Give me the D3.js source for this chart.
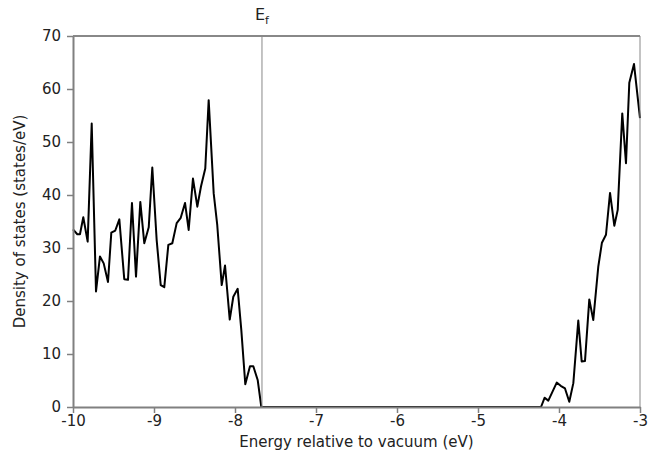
<!DOCTYPE html>
<html>
<head>
<meta charset="utf-8">
<script src="https://cdn.jsdelivr.net/npm/d3@7/dist/d3.min.js"></script>
<style>
  body { margin: 0; background: #fff; }
  svg text { font-family: "DejaVu Sans", Verdana, sans-serif; fill: #222; }
</style>
</head>
<body>
<div class="chart"></div>
<script>
// energies (eV) and density of states
const energy = [
    -10.00, -9.947, -9.914, -9.873, -9.819, -9.769, -9.716, -9.667, -9.621, -9.568,
    -9.527, -9.478, -9.428, -9.367, -9.321, -9.272, -9.222, -9.169, -9.120, -9.065,
    -9.021, -8.967, -8.917, -8.873, -8.823, -8.774, -8.720, -8.670, -8.617, -8.572,
    -8.519, -8.465, -8.420, -8.367, -8.325, -8.263, -8.219, -8.164, -8.123, -8.065,
    -8.021, -7.967, -7.922, -7.873, -7.815, -7.774, -7.720, -7.675,
    -4.222, -4.177, -4.132, -4.080, -4.028, -3.979, -3.926, -3.873, -3.823, -3.762,
    -3.720, -3.679, -3.626, -3.577, -3.515, -3.470, -3.420, -3.370, -3.317, -3.275,
    -3.219, -3.173, -3.132, -3.074, -3.000
];
const dos = [
    33.5, 32.6, 32.6, 35.8, 31.2, 53.5, 21.8, 28.4, 27.1, 23.6,
    32.9, 33.3, 35.4, 24.1, 24.0, 38.5, 24.6, 38.7, 30.9, 33.9,
    45.2, 31.5, 23.0, 22.6, 30.6, 30.9, 34.7, 35.7, 38.5, 33.4,
    43.1, 37.8, 41.6, 45.0, 57.9, 40.3, 34.3, 23.0, 26.7, 16.5,
    20.8, 22.3, 14.5, 4.3, 7.7, 7.7, 5.1, 0,
    0, 1.75, 1.2, 2.9, 4.6, 4.0, 3.5, 1.0, 4.5, 16.3,
    8.6, 8.7, 20.3, 16.4, 26.5, 31.0, 32.5, 40.4, 34.2, 37.2,
    55.4, 46.0, 61.2, 64.7, 54.5
];
const xTicks = [-10, -9, -8, -7, -6, -5, -4, -3];
const yTicks = [0, 10, 20, 30, 40, 50, 60, 70];
const fermiLevel = -7.667;

const width = 649, height = 464;
const margin = {top: 36, right: 9, bottom: 57, left: 73};
const fontFamily = "'DejaVu Sans', Verdana, sans-serif";

const svg = d3.select(".chart")
    .append("svg")
    .attr("width", width)
    .attr("height", height);

const x = d3.scaleLinear().domain([-10, -3]).range([margin.left, width - margin.right]);
const y = d3.scaleLinear().domain([0, 70]).range([height - margin.bottom, margin.top]);

const points = energy.map((e, i) => [e, dos[i]]);

// the curve (the gap between the bands runs along zero)
svg.append("path")
    .datum(points)
    .attr("fill", "none")
    .attr("stroke", "#000")
    .attr("stroke-width", 2)
    .attr("stroke-linejoin", "round")
    .attr("d", d3.line().x(d => x(d[0])).y(d => y(d[1])));

// Fermi level
svg.append("line")
    .attr("x1", x(fermiLevel)).attr("x2", x(fermiLevel))
    .attr("y1", y(70)).attr("y2", y(0))
    .attr("stroke", "#888")
    .attr("stroke-width", 1);

const ef = svg.append("text")
    .attr("x", x(fermiLevel))
    .attr("y", 20)
    .attr("text-anchor", "middle")
    .style("font-size", "16px");
ef.append("tspan").text("E");
ef.append("tspan").attr("dy", 4).style("font-size", "11px").text("f");

// frame top/right
svg.append("line")
    .attr("x1", x(-10)).attr("x2", x(-3))
    .attr("y1", y(70)).attr("y2", y(70))
    .attr("stroke", "#888").attr("stroke-width", 2);
svg.append("line")
    .attr("x1", x(-3)).attr("x2", x(-3))
    .attr("y1", y(70)).attr("y2", y(0))
    .attr("stroke", "#888").attr("stroke-width", 1);

// axes
const xAxis = svg.append("g")
    .attr("transform", `translate(0,${y(0)})`)
    .call(d3.axisBottom(x).tickValues(xTicks).tickSize(6).tickSizeOuter(0).tickFormat(d => String(d)));
const yAxis = svg.append("g")
    .attr("transform", `translate(${x(-10)},0)`)
    .call(d3.axisLeft(y).tickValues(yTicks).tickSize(6).tickSizeOuter(0).tickFormat(d => String(d)));

[xAxis, yAxis].forEach(g => {
    g.select(".domain").attr("stroke", "#808080").attr("stroke-width", 2);
    g.selectAll(".tick line").attr("stroke", "#808080").attr("stroke-width", 1.5);
    g.selectAll(".tick text")
        .style("font-family", fontFamily)
        .style("font-size", "15px")
        .attr("fill", "#222");
});
xAxis.selectAll(".tick text").attr("y", 8).attr("dy", "0.71em");
yAxis.selectAll(".tick text").attr("x", -12);

// axis titles
svg.append("text")
    .attr("x", (x(-10) + x(-3)) / 2)
    .attr("y", 447)
    .attr("text-anchor", "middle")
    .style("font-size", "15px")
    .text("Energy relative to vacuum (eV)");

svg.append("text")
    .attr("transform", `translate(25,${(y(0) + y(70)) / 2}) rotate(-90)`)
    .attr("text-anchor", "middle")
    .style("font-size", "15px")
    .text("Density of states (states/eV)");
</script>
</body>
</html>
